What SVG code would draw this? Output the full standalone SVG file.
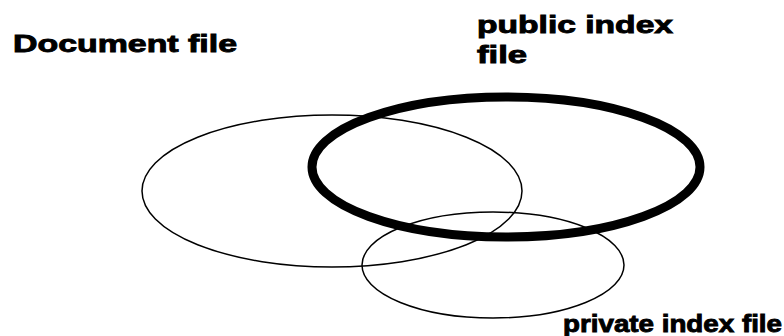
<svg xmlns="http://www.w3.org/2000/svg" width="784" height="336" viewBox="0 0 784 336">
<style>
.lbl{font-family:"Liberation Sans",Arial,sans-serif;font-weight:bold;font-size:24px;fill:#000;stroke:#000;stroke-width:0.9}
.thin{fill:none;stroke:#000;stroke-width:1.5}
.thick{fill:none;stroke:#000;stroke-width:9}
</style>
<rect width="784" height="336" fill="#fff"/>
<g id="document">
<ellipse class="thin" cx="332" cy="191" rx="190" ry="76"/>
<text class="lbl" x="13" y="52" textLength="224" lengthAdjust="spacingAndGlyphs">Document file</text>
</g>
<g id="public">
<ellipse class="thick" cx="506" cy="167" rx="194" ry="70"/>
<text class="lbl" x="477" y="33" textLength="196" lengthAdjust="spacingAndGlyphs">public index</text>
<text class="lbl" x="477" y="63" textLength="50" lengthAdjust="spacingAndGlyphs">file</text>
</g>
<g id="private">
<ellipse class="thin" cx="493" cy="265" rx="131" ry="53"/>
<text class="lbl" x="563" y="332" textLength="219" lengthAdjust="spacingAndGlyphs">private index file</text>
</g>
<g id="connectors"/>
</svg>
